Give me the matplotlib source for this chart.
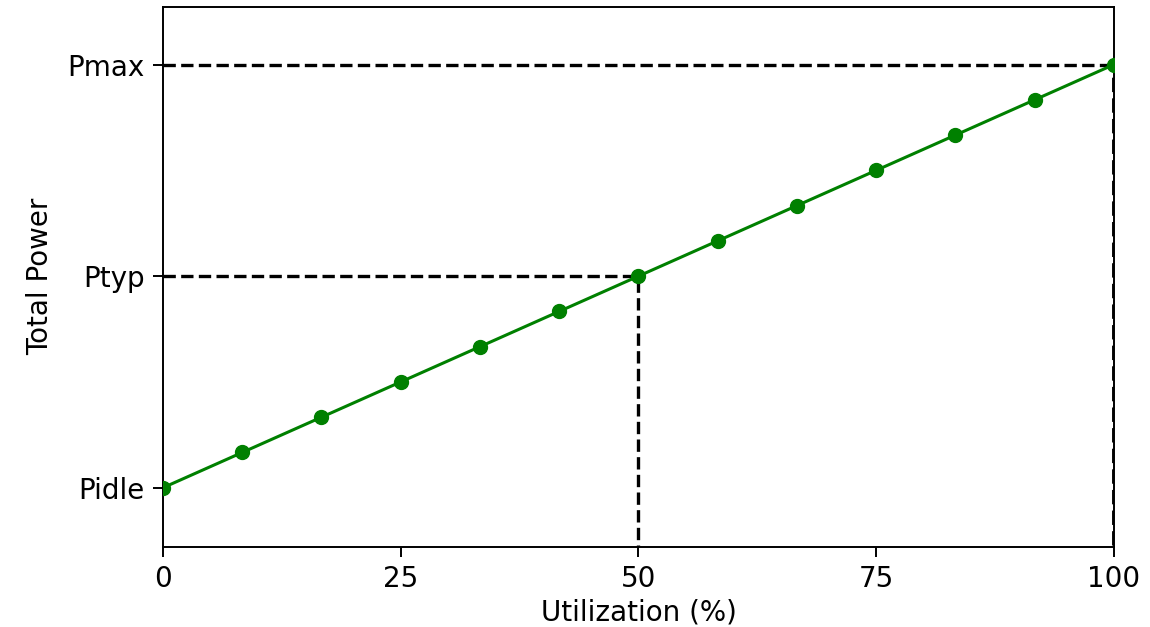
import matplotlib
matplotlib.use("Agg")
import matplotlib.pyplot as plt

# Data
utilization = [0, 8.33, 16.67, 25, 33.33, 41.67, 50, 58.33, 66.67, 75, 83.33, 91.67, 100]
power = [100, 108.33, 116.67, 125, 133.33, 141.67, 150, 158.33, 166.67, 175, 183.33, 191.67, 200]
p_idle, p_typ, p_max = 100, 150, 200
ytick_labels = ["Pidle", "Ptyp", "Pmax"]
xticks = [0, 25, 50, 75, 100]

plt.rcParams["font.family"] = ["DejaVu Sans"]
plt.rcParams["font.size"] = 20

fig = plt.figure(figsize=(11.5, 6.27), dpi=100)
ax = fig.add_axes([0.1417, 0.1276, 0.8270, 0.8620])

ax.plot([0, 50], [p_typ, p_typ], "k--", lw=2.4, zorder=1)
ax.plot([50, 50], [0, p_typ], "k--", lw=2.4, zorder=1)
ax.plot([0, 100], [p_max, p_max], "k--", lw=2.4, zorder=1)
ax.plot([100, 100], [0, p_max], "k--", lw=2.8, zorder=1)

ax.plot(utilization, power, color="green", marker="o", lw=2.2, markersize=10, zorder=3)

ax.set_xlim(0, 100)
ax.set_ylim(86.0, 213.7)
ax.set_xticks(xticks)
ax.set_yticks([p_idle, p_typ, p_max])
ax.set_yticklabels(ytick_labels)
ax.set_xlabel("Utilization (%)", labelpad=4)
ax.set_ylabel("Total Power", labelpad=10)
for s in ax.spines.values():
    s.set_linewidth(1.4)
ax.tick_params(length=7, width=1.4, pad=6)

fig.savefig("out.png", dpi=100)
